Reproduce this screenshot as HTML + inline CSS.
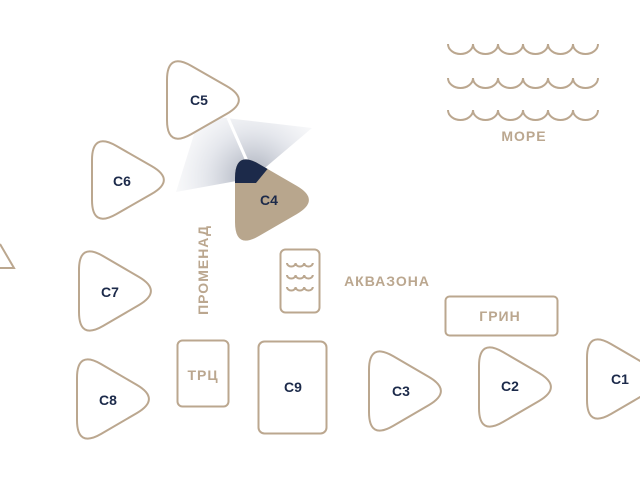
<!DOCTYPE html>
<html><head><meta charset="utf-8"><style>
html,body{margin:0;padding:0;background:#fff;}
svg{display:block}
text{font-family:"Liberation Sans",sans-serif;}
</style></head><body>
<svg id="s" width="640" height="480" viewBox="0 0 640 480" xmlns="http://www.w3.org/2000/svg">
<defs>
<radialGradient id="g" cx="253" cy="178" r="95" gradientUnits="userSpaceOnUse">
<stop offset="0" stop-color="#1c2a4a" stop-opacity="0.4"/>
<stop offset="0.5" stop-color="#7d88a3" stop-opacity="0.2"/>
<stop offset="1" stop-color="#c8cdd8" stop-opacity="0.02"/>
</radialGradient>
</defs>
<path d="M253,178 L176,192 L200,115 L312,128 Z" fill="url(#g)"/>
<line x1="228" y1="118" x2="251" y2="170" stroke="#fff" stroke-width="3"/>
<g id="tris"></g>
<g fill="none" stroke="#bba78f" stroke-width="2">
<path d="M0,244 L14,268 L-2,268"/>
<rect x="177.5" y="340.5" width="51" height="66" rx="5"/>
<rect x="258.5" y="341.5" width="68" height="92" rx="6"/>
<rect x="280.5" y="249.5" width="39" height="63" rx="5"/>
<rect x="445.5" y="296.5" width="112" height="39" rx="4"/>
<g id="waves"></g>
</g>
<g fill="#1c2a4a" font-size="14" font-weight="bold" text-anchor="middle">
<text x="199" y="105">C5</text>
<text x="122" y="186">C6</text>
<text x="110" y="297">C7</text>
<text x="108" y="405">C8</text>
<text x="269" y="205">C4</text>
<text x="401" y="396">C3</text>
<text x="510" y="391">C2</text>
<text x="620" y="384">C1</text>
<text x="293" y="392">C9</text>
</g>
<g fill="#bba78f" font-size="14" font-weight="bold" text-anchor="middle" letter-spacing="1">
<text x="203" y="380">ТРЦ</text>
<text x="500" y="321">ГРИН</text>
<text x="524" y="141">МОРЕ</text>
<text x="387" y="286">АКВАЗОНА</text>
<text transform="translate(208,270) rotate(-90)">ПРОМЕНАД</text>
</g>
</svg>
<script>
var NS="http://www.w3.org/2000/svg";
function rt(x,y,w,h,r){var P=[[x,y],[x,y+h],[x+w,y+h/2]],d="";
for(var i=0;i<3;i++){var V=P[i],A=P[(i+2)%3],B=P[(i+1)%3];
function pt(Q){var dx=Q[0]-V[0],dy=Q[1]-V[1],l=Math.hypot(dx,dy);return [V[0]+r*dx/l,V[1]+r*dy/l];}
var a=pt(A),b=pt(B);d+=(i?"L":"M")+a[0]+","+a[1]+"Q"+V[0]+","+V[1]+" "+b[0]+","+b[1];}
return d+"Z";}
var T=[[167,52,84,96,false],[92,132,84,96,false],[79,242,84,98,false],[77,350,84,98,false],[235,150,86,100,true],[369,342,84,98,false],[479,338,84,98,false],[587,330,84,98,false]];
var g=document.getElementById("tris");
T.forEach(function(t){var p=document.createElementNS(NS,"path");p.setAttribute("d",rt(t[0],t[1],t[2],t[3],28));
if(t[4]){p.setAttribute("fill","#b8a68d");}else{p.setAttribute("fill","#fff");p.setAttribute("stroke","#bba78f");p.setAttribute("stroke-width","2");}
g.appendChild(p);});
var cp=document.createElementNS(NS,"clipPath");cp.setAttribute("id","cc");var cpp=document.createElementNS(NS,"path");cpp.setAttribute("d",rt(235,150,86,100,28));cp.appendChild(cpp);
document.querySelector("defs").appendChild(cp);
var nv=document.createElementNS(NS,"path");nv.setAttribute("d","M225,150 L275,150 L270,166 L256,183 L225,183 Z");nv.setAttribute("fill","#1c2a4a");nv.setAttribute("clip-path","url(#cc)");g.appendChild(nv);
var w=document.getElementById("waves");
function waves(x0,y,n,rw,dep){var d="";for(var i=0;i<n;i++){var x=x0+i*rw*2;d+="M"+x+","+y+" A"+rw+","+dep+" 0 0 0 "+(x+rw*2)+","+y+" ";}var p=document.createElementNS(NS,"path");p.setAttribute("d",d);w.appendChild(p);}
[44,78,110].forEach(function(y){waves(448,y,6,12.5,10);});
[263,275,287].forEach(function(y){waves(287,y,3,4.3,3.5);});
</script>
</body></html>
